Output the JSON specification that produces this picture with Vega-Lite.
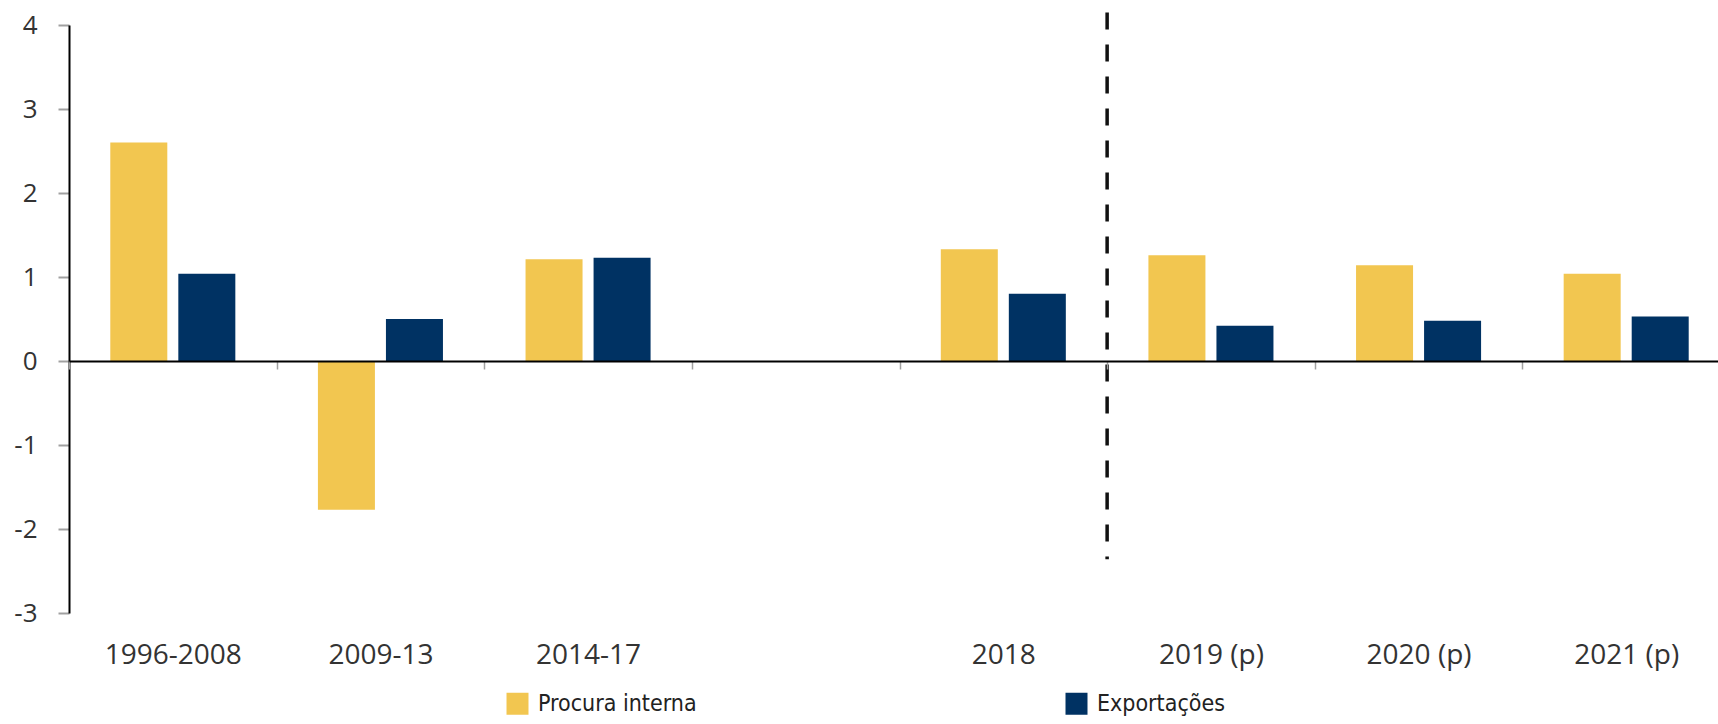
{
  "$schema": "https://vega.github.io/schema/vega-lite/v6.json",
  "width": 1649,
  "height": 588,
  "autosize": {"type": "none"},
  "padding": {"left": 69, "top": 25, "right": 0, "bottom": 111},
  "background": "white",
  "config": {"view": {"stroke": null}, "font": "Open Sans"},
  "datasets": {
    "bars": [
      {"cat": "1996-2008", "series": "Procura interna", "value": 2.6},
      {"cat": "1996-2008", "series": "Exportações", "value": 1.04},
      {"cat": "2009-13", "series": "Procura interna", "value": -1.77},
      {"cat": "2009-13", "series": "Exportações", "value": 0.5},
      {"cat": "2014-17", "series": "Procura interna", "value": 1.21},
      {"cat": "2014-17", "series": "Exportações", "value": 1.23},
      {"cat": "2018", "series": "Procura interna", "value": 1.33},
      {"cat": "2018", "series": "Exportações", "value": 0.8},
      {"cat": "2019 (p)", "series": "Procura interna", "value": 1.26},
      {"cat": "2019 (p)", "series": "Exportações", "value": 0.42},
      {"cat": "2020 (p)", "series": "Procura interna", "value": 1.14},
      {"cat": "2020 (p)", "series": "Exportações", "value": 0.48},
      {"cat": "2021 (p)", "series": "Procura interna", "value": 1.04},
      {"cat": "2021 (p)", "series": "Exportações", "value": 0.53}
    ],
    "divider": [{"cat": "2019 (p)", "top": 4.15, "bottom": -2.36}]
  },
  "layer": [
    {
      "data": {"name": "bars"},
      "mark": {"type": "bar"},
      "encoding": {
        "x": {
          "field": "cat",
          "type": "nominal",
          "sort": null,
          "scale": {
            "domain": ["1996-2008", "2009-13", "2014-17", "_", "2018", "2019 (p)", "2020 (p)", "2021 (p)"],
            "range": [0, 1661],
            "paddingInner": 0,
            "paddingOuter": 0
          },
          "axis": {
            "title": null,
            "offset": -252,
            "domainColor": "#000000",
            "domainWidth": 2,
            "tickBand": "extent",
            "tickColor": "#a0a0a0",
            "tickWidth": 1.5,
            "tickSize": 8,
            "labelPadding": 272,
            "labelFont": "Open Sans",
            "labelFontSize": 28,
            "labelColor": "#333333",
            "labelAngle": 0,
            "labelExpr": "datum.value == '_' ? '' : datum.value",
            "zindex": 1
          }
        },
        "xOffset": {
          "field": "series",
          "type": "nominal",
          "sort": ["Procura interna", "Exportações"],
          "scale": {"paddingInner": 0.162, "paddingOuter": 0.607}
        },
        "y": {
          "field": "value",
          "type": "quantitative",
          "scale": {"domain": [-3, 4], "nice": false, "zero": false},
          "axis": {
            "title": null,
            "values": [-3, -2, -1, 0, 1, 2, 3, 4],
            "labelExpr": "datum.value + ''",
            "domainColor": "#000000",
            "domainWidth": 2,
            "tickColor": "#a0a0a0",
            "tickWidth": 2,
            "tickSize": 11,
            "labelPadding": 21,
            "labelFont": "Open Sans",
            "labelFontSize": 26,
            "labelColor": "#333333",
            "grid": false
          }
        },
        "color": {
          "field": "series",
          "type": "nominal",
          "scale": {"domain": ["Procura interna", "Exportações"], "range": ["#F2C650", "#003263"]},
          "legend": {
            "title": null,
            "orient": "none",
            "legendX": 437,
            "legendY": 667,
            "direction": "horizontal",
            "columns": 2,
            "columnPadding": 368,
            "symbolType": "square",
            "symbolSize": 484,
            "symbolStrokeWidth": 0,
            "labelFont": "DejaVu Sans Condensed",
            "labelFontSize": 23,
            "labelLimit": 500,
            "labelColor": "#222222",
            "labelOffset": 9,
            "padding": 0
          }
        }
      }
    },
    {
      "data": {"name": "divider"},
      "mark": {"type": "rule", "strokeDash": [17, 15], "strokeWidth": 3.5, "color": "#111111"},
      "encoding": {
        "x": {"field": "cat", "type": "nominal", "bandPosition": 0},
        "y": {"field": "top", "type": "quantitative"},
        "y2": {"field": "bottom"}
      }
    }
  ]
}
